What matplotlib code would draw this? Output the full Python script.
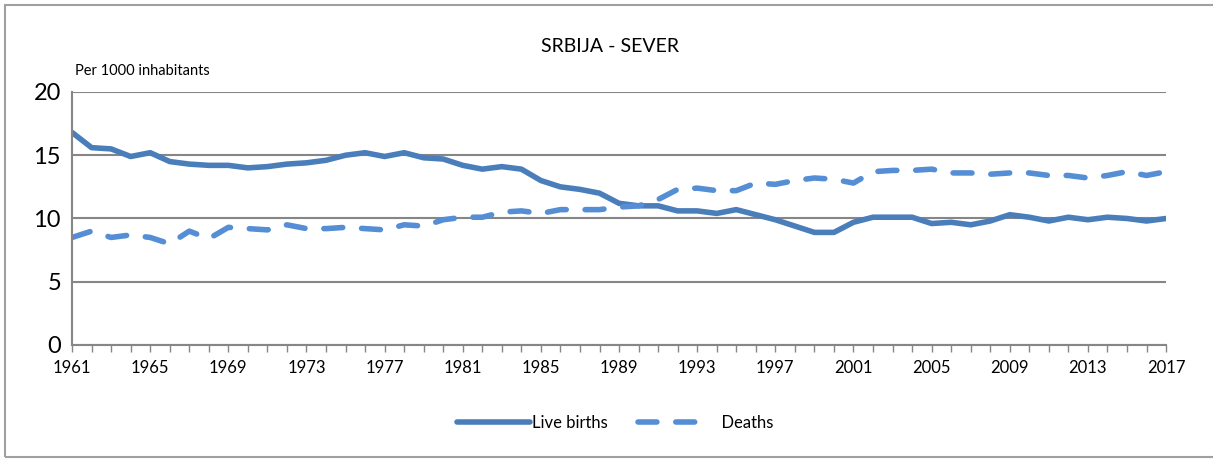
import matplotlib.pyplot as plt
from matplotlib.patches import Rectangle

plt.rcParams['font.family'] = ['Lato', 'DejaVu Sans']

years = list(range(1961, 2018))

live_births = [16.8, 15.6, 15.5, 14.9, 15.2, 14.5, 14.3, 14.2, 14.2, 14.0,
               14.1, 14.3, 14.4, 14.6, 15.0, 15.2, 14.9, 15.2, 14.8, 14.7,
               14.2, 13.9, 14.1, 13.9, 13.0, 12.5, 12.3, 12.0, 11.2, 11.0,
               11.0, 10.6, 10.6, 10.4, 10.7, 10.3, 9.9, 9.4, 8.9, 8.9,
               9.7, 10.1, 10.1, 10.1, 9.6, 9.7, 9.5, 9.8, 10.3, 10.1,
               9.8, 10.1, 9.9, 10.1, 10.0, 9.8, 10.0]

deaths = [8.5, 9.0, 8.5, 8.7, 8.5, 8.0, 9.0, 8.4, 9.3, 9.2,
          9.1, 9.5, 9.2, 9.2, 9.3, 9.2, 9.1, 9.5, 9.4, 9.9,
          10.1, 10.1, 10.5, 10.6, 10.4, 10.7, 10.7, 10.7, 10.9, 11.0,
          11.5, 12.3, 12.4, 12.2, 12.2, 12.8, 12.7, 13.0, 13.2, 13.1,
          12.8, 13.7, 13.8, 13.8, 13.9, 13.6, 13.6, 13.5, 13.6, 13.6,
          13.4, 13.4, 13.2, 13.4, 13.7, 13.4, 13.7]

fig = plt.figure(figsize=(12.13, 4.59), dpi=100)
ax = fig.add_axes([0.0594, 0.2484, 0.9019, 0.5512])

ax.plot(years, live_births, color='#4a7ebb', lw=4, solid_capstyle='round',
        solid_joinstyle='round', label='Live births')
ax.plot(years, deaths, color='#558ed5', lw=4, linestyle=(0, (3.4, 3.4)),
        dash_capstyle='round', label='  Deaths')

ax.set_xlim(1961, 2017)
ax.set_ylim(0, 20)
ax.set_yticks([0, 5, 10, 15, 20])
ax.set_xticks(years, minor=True)
ax.set_xticks(list(range(1961, 2018, 4)))
ax.yaxis.grid(True, color='#868686', lw=1.5)
ax.set_axisbelow(True)
for s in ['top', 'right']:
    ax.spines[s].set_visible(False)
for s in ['left', 'bottom']:
    ax.spines[s].set_color('#868686')
    ax.spines[s].set_linewidth(1.5)
ax.tick_params(axis='y', length=0, labelsize=17, pad=8)
ax.tick_params(axis='x', which='both', direction='out', length=5,
               color='#868686', width=1, labelsize=12)
ax.tick_params(axis='x', which='major', pad=6)

fig.text(0.503, 0.898, 'SRBIJA - SEVER', ha='center', va='center', fontsize=14)
fig.text(0.062, 0.845, 'Per 1000 inhabitants', ha='left', va='center', fontsize=10.5)

ax.legend(loc='center', bbox_to_anchor=(0.507, 0.079), bbox_transform=fig.transFigure,
          ncol=2, frameon=False, fontsize=12, handlelength=4.4,
          handletextpad=0.1, columnspacing=1.8)

fig.patches.append(Rectangle((0.004, 0.005), 1.2, 0.984, transform=fig.transFigure,
                             fill=False, edgecolor='#a0a0a0', lw=1.5))

fig.savefig('out.png', dpi=100)
